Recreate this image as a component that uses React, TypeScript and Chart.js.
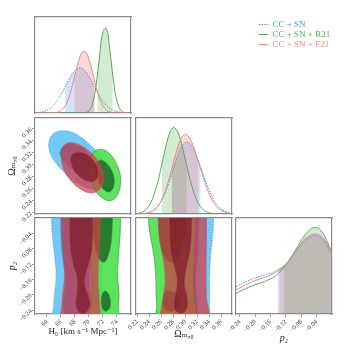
import React, { useEffect, useRef } from 'react';
import { Chart, registerables } from 'chart.js';

Chart.register(...registerables);

const FONT = "'Liberation Serif', 'DejaVu Serif', serif";

// ---------------- axes ----------------
const H0_MIN = 62.3, H0_MAX = 76.0;
const OM_MIN = 0.218, OM_MAX = 0.378;
const P2_MIN = -0.25, P2_MAX = 0.0;
const H0_TICKS = [64, 66, 68, 70, 72, 74];
const OM_TICKS = [0.22, 0.24, 0.26, 0.28, 0.3, 0.32, 0.34, 0.36];
const P2_TICKS = [-0.24, -0.2, -0.16, -0.12, -0.08, -0.04];

const SERIES = ['CC + SN', 'CC + SN + R21', 'CC + SN + F21'];

// ---------------- 1D marginals ----------------
const H0_X = [62.5, 63, 63.5, 64, 64.5, 65, 65.5, 66, 66.5, 67, 67.5, 68, 68.5, 69, 69.5, 70, 70.5, 71, 71.5, 72, 72.5, 73, 73.5, 74, 74.5, 75, 75.5];
const H0_BLUE = [0.004, 0.008, 0.016, 0.03, 0.052, 0.085, 0.131, 0.189, 0.257, 0.328, 0.393, 0.442, 0.468, 0.465, 0.434, 0.381, 0.313, 0.243, 0.176, 0.121, 0.077, 0.047, 0.026, 0.014, 0.007, 0.003, 0.001];
const H0_GREEN = [0, 0, 0, 0, 0, 0, 0, 0, 0, 0, 0, 0, 0, 0.001, 0.004, 0.023, 0.096, 0.28, 0.58, 0.85, 0.88, 0.644, 0.334, 0.122, 0.032, 0.006, 0.001];
const H0_RED = [0, 0, 0, 0, 0.001, 0.003, 0.009, 0.026, 0.064, 0.135, 0.248, 0.393, 0.536, 0.631, 0.64, 0.561, 0.423, 0.276, 0.155, 0.075, 0.031, 0.011, 0.004, 0.001, 0, 0, 0];

const OM_X = [0.22, 0.225, 0.23, 0.235, 0.24, 0.245, 0.25, 0.255, 0.26, 0.265, 0.27, 0.275, 0.28, 0.285, 0.29, 0.295, 0.3, 0.305, 0.31, 0.315, 0.32, 0.325, 0.33, 0.335, 0.34, 0.345, 0.35, 0.355, 0.36, 0.365, 0.37, 0.375];
const OM_BLUE = [0.001, 0.003, 0.005, 0.01, 0.019, 0.033, 0.056, 0.089, 0.136, 0.198, 0.276, 0.367, 0.465, 0.561, 0.647, 0.711, 0.745, 0.746, 0.717, 0.662, 0.587, 0.5, 0.41, 0.322, 0.244, 0.177, 0.123, 0.083, 0.053, 0.033, 0.02, 0.011];
const OM_GREEN = [0.005, 0.012, 0.025, 0.048, 0.088, 0.15, 0.24, 0.35, 0.49, 0.63, 0.76, 0.856, 0.9, 0.882, 0.814, 0.705, 0.573, 0.438, 0.315, 0.212, 0.134, 0.08, 0.045, 0.023, 0.012, 0.006, 0.003, 0.001, 0.001, 0, 0, 0];
const OM_RED = [0.001, 0.001, 0.003, 0.007, 0.014, 0.027, 0.049, 0.083, 0.136, 0.207, 0.3, 0.408, 0.528, 0.643, 0.741, 0.807, 0.83, 0.812, 0.761, 0.683, 0.587, 0.482, 0.38, 0.287, 0.207, 0.143, 0.095, 0.06, 0.036, 0.021, 0.012, 0.006];

const P2_X = [-0.25, -0.23, -0.21, -0.19, -0.17, -0.15, -0.13, -0.11, -0.09, -0.075, -0.06, -0.045, -0.03, -0.015, 0.0];
const P2_BLUE = [0.285, 0.325, 0.362, 0.39, 0.413, 0.44, 0.488, 0.562, 0.67, 0.75, 0.795, 0.815, 0.798, 0.725, 0.6];
const P2_GREEN = [0.216, 0.255, 0.29, 0.318, 0.348, 0.39, 0.466, 0.572, 0.7, 0.799, 0.868, 0.903, 0.876, 0.775, 0.635];
const P2_RED = [0.25, 0.294, 0.332, 0.363, 0.39, 0.428, 0.483, 0.566, 0.678, 0.764, 0.812, 0.833, 0.815, 0.74, 0.618];

// 68% intervals (shaded)
const H0_INT = [[66.6, 70.8], [71.2, 73.4], [67.9, 70.8]];
const OM_INT = [[0.2775, 0.3257], [0.261, 0.3025], [0.2775, 0.322]];
const P2_INT = [[-0.141, 0.0], [-0.126, 0.0], [-0.137, 0.0]];

// ---------------- 2D contours (outer = 95%, inner = 68%) ----------------
const HO_BLUE_OUT = [[64.2, 0.333], [64.54, 0.347], [65.3, 0.3547], [66.35, 0.3569], [67.54, 0.3547], [68.73, 0.347], [69.92, 0.3358], [71.11, 0.3219], [71.97, 0.3052], [72.44, 0.2886], [72.35, 0.2719], [71.68, 0.2619], [70.63, 0.2591], [69.44, 0.2624], [68.01, 0.2719], [66.59, 0.2858], [65.3, 0.3024], [64.54, 0.3163], [64.2, 0.333]];
const HO_BLUE_IN = [[65.78, 0.3202], [66.35, 0.3313], [67.3, 0.3358], [68.49, 0.3313], [69.68, 0.3219], [70.63, 0.3091], [71.01, 0.2941], [70.63, 0.283], [69.68, 0.2802], [68.49, 0.2858], [67.21, 0.2969], [66.25, 0.308], [65.78, 0.3202]];
const HO_GREEN_OUT = [[70.54, 0.3202], [71.35, 0.3258], [72.3, 0.3241], [73.25, 0.3147], [74.01, 0.2997], [74.49, 0.2813], [74.44, 0.2624], [73.87, 0.2458], [73.01, 0.2402], [72.06, 0.2436], [71.11, 0.2536], [70.4, 0.268], [70.01, 0.2847], [70.06, 0.3036], [70.54, 0.3202]];
const HO_GREEN_IN = [[71.11, 0.3052], [71.68, 0.308], [72.44, 0.3036], [73.16, 0.2924], [73.59, 0.2774], [73.49, 0.2624], [72.92, 0.2547], [72.16, 0.258], [71.49, 0.2702], [71.06, 0.2858], [70.92, 0.298], [71.11, 0.3052]];
const HO_RED_OUT = [[66.01, 0.3163], [66.2, 0.3274], [66.73, 0.3347], [67.54, 0.3369], [68.73, 0.333], [69.92, 0.3236], [71.01, 0.3108], [71.73, 0.2958], [72.06, 0.2802], [71.87, 0.2647], [71.2, 0.2558], [70.25, 0.253], [69.2, 0.2569], [67.87, 0.268], [66.73, 0.2847], [66.16, 0.3013], [66.01, 0.3163]];
const HO_RED_IN = [[67.3, 0.308], [67.54, 0.3163], [68.25, 0.3208], [69.2, 0.3202], [70.16, 0.3136], [70.97, 0.3024], [71.35, 0.2897], [71.2, 0.2774], [70.54, 0.2713], [69.59, 0.273], [68.63, 0.2802], [67.78, 0.2913], [67.3, 0.308]];

const HP_BLUE_OUT = [[64.6, 0.03], [64.68, -0.02], [64.85, -0.06], [65.1, -0.1], [65.3, -0.14], [65.25, -0.17], [65.05, -0.2], [64.95, -0.23], [64.9, -0.27], [72.3, -0.27], [72.2, -0.23], [72.1, -0.2], [71.9, -0.17], [71.9, -0.14], [72.1, -0.1], [72.3, -0.06], [72.4, -0.02], [72.4, 0.03]];
const HP_BLUE_IN = [[65.9, 0.03], [66.0, -0.05], [66.2, -0.1], [66.7, -0.16], [66.4, -0.21], [66.5, -0.245], [67.3, -0.26], [69.8, -0.26], [70.4, -0.245], [70.3, -0.21], [70.0, -0.16], [70.5, -0.1], [70.8, -0.05], [70.9, 0.03]];
const HP_GREEN_OUT = [[70.1, 0.03], [70.1, -0.04], [70.2, -0.09], [70.4, -0.13], [70.5, -0.17], [70.4, -0.21], [70.3, -0.27], [74.0, -0.27], [74.2, -0.23], [74.3, -0.2], [74.15, -0.17], [74.1, -0.14], [74.2, -0.1], [74.45, -0.04], [74.5, 0.03]];
const HP_GREEN_IN_TOP = [[70.6, 0.03], [70.6, -0.02], [70.8, -0.06], [71.1, -0.09], [71.6, -0.11], [72.2, -0.115], [72.7, -0.1], [73.1, -0.07], [73.3, -0.03], [73.35, 0.03]];
const HP_GREEN_IN_BOT = [[71.9, -0.197], [72.3, -0.19], [72.8, -0.198], [73.05, -0.215], [72.95, -0.235], [72.4, -0.243], [71.9, -0.235], [71.75, -0.215], [71.9, -0.197]];
const HP_RED_OUT = [[66.05, 0.03], [66.1, -0.02], [66.2, -0.06], [66.35, -0.1], [66.5, -0.14], [66.45, -0.17], [66.25, -0.2], [66.15, -0.23], [66.1, -0.27], [71.5, -0.27], [71.5, -0.23], [71.4, -0.2], [71.3, -0.17], [71.3, -0.14], [71.4, -0.1], [71.5, -0.06], [71.6, -0.02], [71.6, 0.03]];
const HP_RED_IN = [[67.2, 0.03], [67.2, -0.04], [67.35, -0.085], [67.7, -0.12], [68.2, -0.15], [68.3, -0.175], [68.2, -0.2], [68.1, -0.225], [68.4, -0.243], [69.1, -0.25], [69.8, -0.243], [70.2, -0.225], [70.0, -0.205], [69.5, -0.18], [69.45, -0.155], [69.9, -0.125], [70.4, -0.09], [70.6, -0.04], [70.6, 0.03]];

const OP_BLUE_OUT = [[0.258, 0.03], [0.26, -0.06], [0.264, -0.14], [0.265, -0.18], [0.262, -0.23], [0.26, -0.27], [0.34, -0.27], [0.3405, -0.23], [0.341, -0.2], [0.3405, -0.17], [0.341, -0.14], [0.3425, -0.1], [0.345, -0.06], [0.347, -0.02], [0.348, 0.03]];
const OP_BLUE_IN = [[0.272, 0.03], [0.274, -0.1], [0.281, -0.16], [0.277, -0.22], [0.28, -0.25], [0.3, -0.26], [0.318, -0.25], [0.32, -0.22], [0.317, -0.16], [0.321, -0.1], [0.324, 0.03]];
const OP_GREEN_OUT = [[0.2385, 0.03], [0.2395, -0.02], [0.2435, -0.06], [0.248, -0.1], [0.2505, -0.14], [0.2512, -0.17], [0.2515, -0.2], [0.2525, -0.23], [0.2525, -0.27], [0.315, -0.27], [0.3145, -0.2], [0.3135, -0.16], [0.3145, -0.12], [0.316, -0.06], [0.3165, 0.03]];
const OP_GREEN_IN_TOP = [[0.2555, 0.03], [0.2555, -0.01], [0.257, -0.05], [0.261, -0.085], [0.269, -0.108], [0.278, -0.115], [0.287, -0.105], [0.295, -0.075], [0.3, -0.03], [0.301, 0.03]];
const OP_GREEN_IN_BOT = [[0.265, -0.197], [0.27, -0.19], [0.283, -0.195], [0.29, -0.213], [0.287, -0.235], [0.276, -0.243], [0.266, -0.236], [0.263, -0.215], [0.265, -0.197]];
const OP_RED_OUT = [[0.2545, 0.03], [0.2552, -0.02], [0.258, -0.06], [0.263, -0.1], [0.2665, -0.14], [0.267, -0.17], [0.264, -0.2], [0.261, -0.23], [0.26, -0.27], [0.336, -0.27], [0.335, -0.2], [0.3347, -0.14], [0.3352, -0.06], [0.3355, 0.03]];
const OP_RED_IN = [[0.273, 0.03], [0.2735, -0.04], [0.276, -0.09], [0.281, -0.125], [0.2858, -0.155], [0.2858, -0.18], [0.282, -0.205], [0.281, -0.228], [0.285, -0.244], [0.292, -0.249], [0.3, -0.244], [0.3045, -0.225], [0.303, -0.2], [0.2997, -0.18], [0.2997, -0.155], [0.303, -0.125], [0.308, -0.09], [0.311, -0.04], [0.3115, 0.03]];

// ---------------- styles ----------------
const LINE_C = ['#4f8fdf', '#55aa55', '#f08585'];
const BAND_C = ['rgba(75,145,230,0.25)', 'rgba(80,175,80,0.25)', 'rgba(235,105,105,0.25)'];
const OUT_C = ['rgba(100,195,242,0.9)', 'rgba(80,225,80,0.92)', 'rgba(212,55,68,0.7)'];
const IN_C = ['rgba(55,140,215,0.9)', 'rgba(35,115,45,0.92)', 'rgba(125,25,40,0.72)'];
const EDGE_C = ['#3f86d6', '#2f8a34', '#c0505e'];
const FRAME_C = '#8a8a8a';

const LPAD = 35, TPAD = 8, RPAD = 8, BPAD = 40, SIZE = 96;
const COL_X = [35, 136, 236];
const ROW_Y = [17, 118, 218];

const mk = (a: number[][]) => a.map(([x, y]) => ({ x, y }));
const fmt2 = (v: number) => v.toFixed(2).replace('-', '\u2212');
const fmt0 = (v: number) => String(Math.round(v));

function band(xs: number[], ys: number[], lo: number, hi: number) {
  const at = (v: number) => {
    for (let i = 0; i < xs.length - 1; i++) {
      if (v >= xs[i] && v <= xs[i + 1]) {
        const t = (v - xs[i]) / (xs[i + 1] - xs[i]);
        return ys[i] + t * (ys[i + 1] - ys[i]);
      }
    }
    return ys[ys.length - 1];
  };
  const out = [{ x: lo, y: at(lo) }];
  xs.forEach((x, i) => { if (x > lo && x < hi) out.push({ x, y: ys[i] }); });
  out.push({ x: hi, y: at(hi) });
  return out;
}

function axis(pos: string, min: number, max: number, ticks: number[] | null, fmt: (v: number) => string, title: any) {
  const horiz = pos === 'bottom';
  return {
    type: 'linear', position: pos, min, max,
    afterFit: (s: any) => { if (horiz) s.height = BPAD; else s.width = LPAD; },
    afterBuildTicks: (s: any) => { if (ticks) s.ticks = ticks.map((v) => ({ value: v })); },
    ticks: {
      display: !!ticks, font: { family: FONT, size: 6.5 }, color: '#333', padding: 1,
      minRotation: 45, maxRotation: 45, autoSkip: false,
      callback: (v: any) => fmt(Number(v)),
    },
    grid: { display: !!ticks, drawOnChartArea: false, drawTicks: true, tickLength: 3, color: FRAME_C, lineWidth: 0.8 },
    border: { display: true, color: FRAME_C, width: 1.2 },
    title: title
      ? { display: true, text: title.text, color: '#222', font: { family: FONT, size: title.size, style: title.italic ? 'italic' : 'normal' }, padding: horiz ? { top: 0, bottom: title.pad } : { top: title.pad, bottom: 0 } }
      : { display: false },
  };
}

function frameScales() {
  return {
    xt: { type: 'linear', position: 'top', min: 0, max: 1, afterFit: (s: any) => { s.height = 0; }, ticks: { display: false }, grid: { display: false }, border: { display: true, color: FRAME_C, width: 1.2 } },
    yr: { type: 'linear', position: 'right', min: 0, max: 1, afterFit: (s: any) => { s.width = 0; }, ticks: { display: false }, grid: { display: false }, border: { display: true, color: FRAME_C, width: 1.2 } },
  };
}

function baseOptions(x: any, y: any) {
  return {
    responsive: false, animation: false, events: [],
    layout: { padding: { top: TPAD, right: RPAD, left: 0, bottom: 0 } },
    plugins: { legend: { display: false }, tooltip: { enabled: false } },
    scales: { x, y, ...frameScales() },
  };
}

function withOrder(ds: any[]) {
  return ds.map((d, i) => ({ ...d, order: ds.length - i }));
}

function contour(pts: number[][], k: number, inner: boolean) {
  return {
    data: mk(pts), showLine: true, fill: 'shape',
    backgroundColor: inner ? IN_C[k] : OUT_C[k],
    borderColor: EDGE_C[k], borderWidth: 0.6, borderDash: k === 0 ? [1.5, 1.2] : [],
    pointRadius: 0, tension: 0.35, capBezierPoints: false,
  };
}

function marginal(xs: number[], ysList: number[][], ints: number[][]) {
  const bands = ysList.map((ys, k) => ({
    data: band(xs, ys, ints[k][0], ints[k][1]), showLine: true, fill: 'origin',
    backgroundColor: BAND_C[k], borderWidth: 0, pointRadius: 0, tension: 0.4,
  }));
  const lines = ysList.map((ys, k) => ({
    data: xs.map((x, i) => ({ x, y: ys[i] })), showLine: true, fill: false,
    borderColor: LINE_C[k], borderWidth: 1, borderDash: k === 0 ? [1.5, 1.2] : [],
    pointRadius: 0, tension: 0.4,
  }));
  return withOrder([...bands, lines[0], lines[1], lines[2]]);
}

function buildPanels() {
  const H0T = { text: 'H\u2080 [km s\u207B\u00B9 Mpc\u207B\u00B9]', size: 9, pad: 16.6 };
  const OMX = { text: '\u03A9\u2098,\u2080', size: 10, pad: 14 };
  const P2X = { text: 'p\u2082', size: 10, pad: 10, italic: true };
  const OMY = { text: '\u03A9\u2098,\u2080', size: 10, pad: 6 };
  const P2Y = { text: 'p\u2082', size: 10, pad: 6, italic: true };

  const panel = (c: number, r: number, datasets: any[], x: any, y: any) => ({
    left: COL_X[c] - LPAD, top: ROW_Y[r] - TPAD, w: LPAD + SIZE + RPAD, h: TPAD + SIZE + BPAD,
    config: { type: 'scatter', data: { datasets }, options: baseOptions(x, y) },
  });

  const panels: any[] = [];
  panels.push(panel(0, 0, marginal(H0_X, [H0_BLUE, H0_GREEN, H0_RED], H0_INT),
    axis('bottom', H0_MIN, H0_MAX, null, fmt0, null), axis('left', 0, 1, null, fmt2, null)));
  panels.push(panel(0, 1, withOrder([
    contour(HO_BLUE_OUT, 0, false), contour(HO_BLUE_IN, 0, true),
    contour(HO_GREEN_OUT, 1, false), contour(HO_GREEN_IN, 1, true),
    contour(HO_RED_OUT, 2, false), contour(HO_RED_IN, 2, true),
  ]), axis('bottom', H0_MIN, H0_MAX, null, fmt0, null), axis('left', OM_MIN, OM_MAX, OM_TICKS, fmt2, OMY)));
  panels.push(panel(1, 1, marginal(OM_X, [OM_BLUE, OM_GREEN, OM_RED], OM_INT),
    axis('bottom', OM_MIN, OM_MAX, null, fmt2, null), axis('left', 0, 1, null, fmt2, null)));
  panels.push(panel(0, 2, withOrder([
    contour(HP_BLUE_OUT, 0, false), contour(HP_BLUE_IN, 0, true),
    contour(HP_GREEN_OUT, 1, false), contour(HP_GREEN_IN_TOP, 1, true), contour(HP_GREEN_IN_BOT, 1, true),
    contour(HP_RED_OUT, 2, false), contour(HP_RED_IN, 2, true),
  ]), axis('bottom', H0_MIN, H0_MAX, H0_TICKS, fmt0, H0T), axis('left', P2_MIN, P2_MAX, P2_TICKS, fmt2, P2Y)));
  panels.push(panel(1, 2, withOrder([
    contour(OP_BLUE_OUT, 0, false), contour(OP_BLUE_IN, 0, true),
    contour(OP_GREEN_OUT, 1, false), contour(OP_GREEN_IN_TOP, 1, true), contour(OP_GREEN_IN_BOT, 1, true),
    contour(OP_RED_OUT, 2, false), contour(OP_RED_IN, 2, true),
  ]), axis('bottom', OM_MIN, OM_MAX, OM_TICKS, fmt2, OMX), axis('left', P2_MIN, P2_MAX, null, fmt2, null)));
  panels.push(panel(2, 2, marginal(P2_X, [P2_BLUE, P2_GREEN, P2_RED], P2_INT),
    axis('bottom', P2_MIN, P2_MAX, P2_TICKS, fmt2, P2X), axis('left', 0, 1, null, fmt2, null)));

  // legend
  panels.push({
    left: 257.5, top: 18.8, w: 92, h: 60,
    config: {
      type: 'scatter', data: { datasets: [] },
      options: {
        responsive: false, animation: false, events: [],
        layout: { padding: 0 },
        scales: { x: { display: false }, y: { display: false } },
        plugins: {
          tooltip: { enabled: false },
          legend: {
            display: true, position: 'top', align: 'start', maxHeight: 60,
            labels: {
              usePointStyle: true, pointStyleWidth: 9, boxHeight: 8, padding: 1,
              font: { family: FONT, size: 9 },
              generateLabels: () => SERIES.map((t, k) => ({
                text: t, fillStyle: 'rgba(0,0,0,0)', strokeStyle: LINE_C[k], fontColor: LINE_C[k],
                lineWidth: 1.2, lineDash: k === 0 ? [1.5, 1.2] : [], pointStyle: 'line', hidden: false, datasetIndex: k,
              })),
            },
          },
        },
      },
    },
  });
  return panels;
}

const LAYOUT = buildPanels().map((p) => ({ left: p.left, top: p.top, w: p.w, h: p.h }));

export default function App() {
  const refs = useRef<(HTMLCanvasElement | null)[]>([]);
  useEffect(() => {
    const panels = buildPanels();
    const charts: Chart[] = [];
    panels.forEach((p, i) => {
      const c = refs.current[i];
      if (c) charts.push(new Chart(c, p.config as any));
    });
    return () => charts.forEach((ch) => ch.destroy());
  }, []);
  return (
    <div style={{ position: 'fixed', left: 0, top: 0, width: 350, height: 350, background: '#fff', overflow: 'hidden' }}>
      {LAYOUT.map((p, i) => (
        <canvas
          key={i}
          ref={(el) => { refs.current[i] = el; }}
          width={p.w}
          height={p.h}
          style={{ position: 'absolute', left: p.left, top: p.top, width: p.w, height: p.h }}
        />
      ))}
    </div>
  );
}
